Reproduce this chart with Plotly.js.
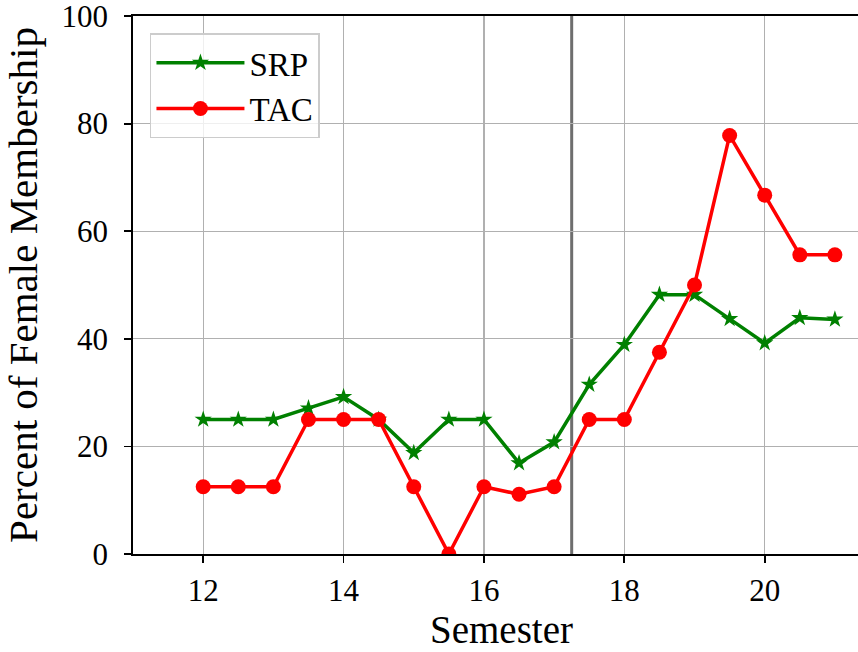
<!DOCTYPE html>
<html>
<head>
<meta charset="utf-8">
<script src="https://cdn.plot.ly/plotly-3.0.1.min.js"></script>
<style>
html,body{margin:0;padding:0;overflow:hidden;background:#fff;width:858px;height:652px;}
#chart{width:890px;height:700px;margin-top:-24px;}
</style>
</head>
<body>
<div id="chart"></div>
<script>
const semesters = [12,12.5,13,13.5,14,14.5,15,15.5,16,16.5,17,17.5,18,18.5,19,19.5,20,20.5,21];
const srp = [25,25,25,27.1,29.2,25,18.8,25,25,16.9,20.8,31.5,38.9,48.2,48.2,43.7,39.2,43.9,43.6];
const tac = [12.5,12.5,12.5,25,25,25,12.5,0,12.5,11.1,12.5,25,25,37.5,50,77.8,66.7,55.6,55.6];
const markerLineX = 17.25;
const xTicks = [12,14,16,18,20];
const yTicks = [0,20,40,60,80,100];

const font = "Liberation Serif, Times New Roman, serif";

const traces = [
  {x: semesters, y: srp, name: 'SRP', mode: 'lines+markers', type: 'scatter',
   line: {color: '#008000', width: 3.5}, marker: {symbol: 'star', size: 13, color: '#008000'}},
  {x: semesters, y: tac, name: 'TAC', mode: 'lines+markers', type: 'scatter',
   line: {color: '#ff0000', width: 3.5}, marker: {symbol: 'circle', size: 15, color: '#ff0000'}}
];

const layout = {
  width: 890, height: 700,
  margin: {l: 133, r: 20, t: 40, b: 122},
  paper_bgcolor: '#fff', plot_bgcolor: '#fff',
  font: {family: font, size: 30, color: '#000'},
  showlegend: true,
  legend: {x: 0.023, y: 0.968, xanchor: 'left', yanchor: 'top',
           bgcolor: 'rgba(255,255,255,0.8)', bordercolor: '#cccccc', borderwidth: 1.5,
           font: {family: font, size: 33}, itemwidth: 88},
  xaxis: {range: [11, 21.5], tickvals: xTicks, ticktext: xTicks.map(String),
          showgrid: true, gridcolor: '#b0b0b0', gridwidth: 1.2,
          showline: true, linecolor: '#000', linewidth: 1.8, mirror: true,
          ticks: 'outside', ticklen: 7, tickwidth: 1.8, tickcolor: '#000',
          ticklabelstandoff: 1,
          zeroline: false, tickfont: {size: 31, family: font},
          title: {text: 'Semester', font: {size: 39, family: font}, standoff: 9}},
  yaxis: {range: [0, 100], tickvals: yTicks, ticktext: yTicks.map(String),
          showgrid: true, gridcolor: '#b0b0b0', gridwidth: 1.2,
          showline: true, linecolor: '#000', linewidth: 1.8, mirror: true,
          ticks: 'outside', ticklen: 7, tickwidth: 1.8, tickcolor: '#000',
          ticklabelstandoff: 10,
          zeroline: false, tickfont: {size: 31, family: font},
          title: {text: 'Percent of Female Membership', font: {size: 41, family: font}, standoff: 16}},
  shapes: [{type: 'line', xref: 'x', yref: 'paper', x0: markerLineX, x1: markerLineX, y0: 0, y1: 1,
            line: {color: '#6e6e6e', width: 3}, layer: 'below'}]
};

Plotly.newPlot('chart', traces, layout, {displayModeBar: false, staticPlot: true});
</script>
</body>
</html>
